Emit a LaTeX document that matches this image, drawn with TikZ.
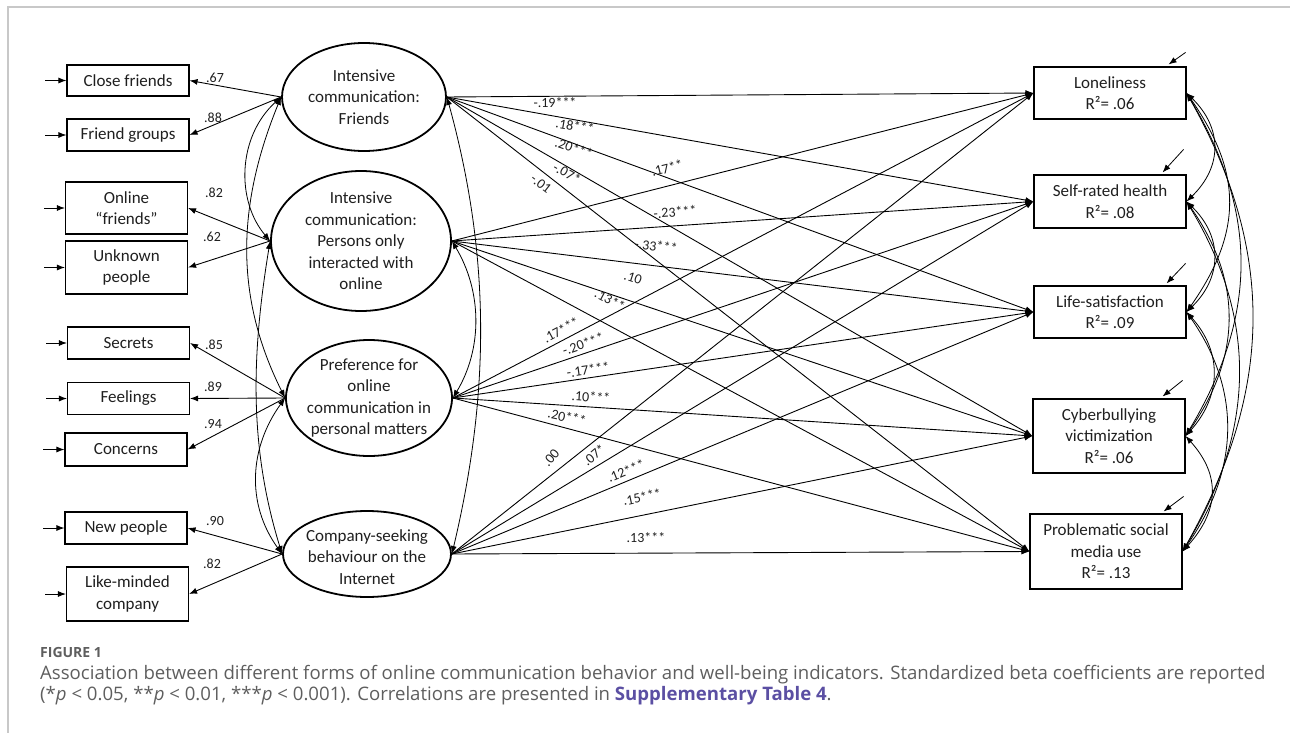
\documentclass[tikz,border=0pt]{standalone}
\usepackage{fontspec}
\setmainfont{Carlito}
\newfontfamily\capfont{Open Sans}
\usepackage{tikz}
\usetikzlibrary{shapes.geometric,arrows.meta}
\definecolor{capgray}{HTML}{5E5E5E}
\definecolor{linkblue}{HTML}{5B4FA3}
\definecolor{framegray}{HTML}{C8C8C8}

\begin{document}
\begin{tikzpicture}[x=1pt, y=-1pt]

\tikzstyle{every node} = [font=\fontsize{17}{21.5}\selectfont, text=black!88]
\tikzstyle{obs} = [draw, rectangle, line width=1.1pt, inner sep=0pt, align=center, minimum width=122pt]
\tikzstyle{outc} = [obs, minimum width=152pt]
\tikzstyle{lat} = [draw, ellipse, line width=1.8pt, inner sep=0pt]
\tikzstyle{lab} = [font=\fontsize{14}{16}\selectfont, inner sep=0pt]
\tikzstyle{ar} = [-{Latex[length=8pt,width=6pt]}, line width=0.9pt]
\tikzstyle{cov} = [{Latex[length=8pt,width=6pt]}-{Latex[length=8pt,width=6pt]}, line width=0.8pt]
\tikzstyle{captxt} = [anchor=base west, inner sep=0pt, text=capgray]

\useasboundingbox (0,0) rectangle (1290,733);
\draw[framegray, line width=1.5pt] (8,733) -- (8,7) -- (1290,7);

\node[obs, minimum height=31pt] (cf) at (128,80.5) {Close friends};
\node[obs, minimum height=32pt] (fg) at (128,135) {Friend groups};
\node[obs, minimum height=52pt] (of) at (126.5,208) {Online\\“friends”};
\node[obs, minimum height=53pt] (up) at (126.5,267.5) {Unknown\\people};
\node[obs, minimum height=32pt] (se) at (128.5,343) {Secrets};
\node[obs, minimum height=32pt] (fe) at (128.5,398.5) {Feelings};
\node[obs, minimum height=33pt] (co) at (126,449.5) {Concerns};
\node[obs, minimum height=32pt] (np) at (126,528) {New people};
\node[obs, minimum height=54pt] (lm) at (127.5,594) {Like-minded\\company};

\node[lat, minimum width=164pt, minimum height=108pt,
  label={[align=center]center:{Intensive\\communication:\\Friends}}] (fr) at (364,97) {};
\node[lat, minimum width=180pt, minimum height=140pt,
  label={[align=center]center:{Intensive\\communication:\\Persons only\\interacted with\\online}}] (on) at (361,241) {};
\node[lat, minimum width=166pt, minimum height=116pt,
  label={[align=center]center:{Preference for\\online\\communication in\\personal matters}}] (pr) at (369,398) {};
\node[lat, minimum width=168pt, minimum height=86pt,
  label={[align=center, yshift=-3pt]center:{Company-seeking\\behaviour on the\\Internet}}] (cs) at (367,554) {};

\node[outc, minimum height=52pt] (lon) at (1110,93) {Loneliness\\R²= .06};
\node[outc, minimum height=53pt] (srh) at (1110,201.5) {Self-rated health\\R²= .08};
\node[outc, minimum height=52pt] (ls) at (1110,312) {Life-satisfaction\\R²= .09};
\node[outc, minimum height=74pt] (cv) at (1109,436) {Cyberbullying\\victimization\\R²= .06};
\node[outc, minimum height=75pt] (psm) at (1106,551.5) {Problematic social\\media use\\R²= .13};

\foreach \n in {cf,fg,of,up,se,fe,co,np,lm}
  \draw[{Latex[length=8pt,width=6pt]}-, line width=0.9pt] (\n.west) -- ++(-21,0);
\foreach \n/\tx/\dx/\dy in {lon/18/17/12, srh/24/21/23, ls/20/19/20, cv/23/20/16, psm/19/20/15}
  \draw[{Latex[length=8pt,width=6pt]}-, line width=0.8pt] ([shift={(-\tx pt,2pt)}]\n.north east) -- ++(\dx,-\dy);

\draw[ar] (fr.west) -- (cf.east);
\draw[ar] (fr.west) -- (fg.east);
\draw[ar] (on.west) -- (of.east);
\draw[ar] (on.west) -- (up.east);
\draw[ar] (pr.west) -- (se.east);
\draw[ar] (pr.west) -- (fe.east);
\draw[ar] (pr.west) -- (co.east);
\draw[ar] (cs.west) -- (np.east);
\draw[ar] (cs.west) -- (lm.east);

\foreach \x/\y/\t [count=\i] in {215/78/.67, 213/118/.88, 214/193/.82, 212/237/.62, 214/345/.85,
  213/387/.89, 213/424/.94, 215/521/.90, 212/564/.82}
  \node[lab] (w\i) at (\x,\y) {\t};

\draw[cov] (fr.west) .. controls +(-44,40) and +(-34,-40) .. (on.west);
\draw[cov] (fr.west) .. controls +(-45,110) and +(-50,-100) .. (pr.west);
\draw[cov] (on.west) .. controls +(-18,110) and +(-34,-110) .. (cs.west);
\draw[cov] (pr.west) .. controls +(-36,50) and +(-36,-50) .. (cs.west);
\draw[cov] (fr.east) .. controls +(44,160) and +(38,-160) .. (cs.east);
\draw[cov] (on.east) .. controls +(30,50) and +(30,-50) .. (pr.east);

\foreach \s in {fr,on,pr,cs}
  \foreach \t in {lon,srh,ls,cv,psm}
    \draw[ar] (\s.east) -- (\t.west);

\foreach \x/\y/\r/\t [count=\i] in {555/103/0/-.19***, 575/126/-10/.18***, 574/148/-20/.20***,
  567/173/-30/-.07*, 541/184/-38/-.01, 667/168/14/.17**, 675/212/4/-.23***, 656/246/-7/-.33***,
  633/278/-18/.10, 610/300/-28/.13**, 561/330/28/.17***, 583/344/19/-.20***, 588/370/8/-.17***,
  591/397/-4/.10***, 567/417/-12/.20***, 551/458/50/.00, 594/455/40/.07*, 626/471/22/.12***,
  642/497/12/.15***, 646/538/0/.13***}
  \node[lab, rotate=\r] (b\i) at (\x,\y) {\t};

\foreach \a/\b/\d/\h in {lon/srh/36/35, srh/ls/36/35, ls/cv/36/40, cv/psm/36/40,
  lon/ls/56/80, srh/cv/56/80, ls/psm/56/80, lon/cv/72/120, srh/psm/72/120, lon/psm/90/160}
  \draw[cov] (\a.east) .. controls +(\d,\h) and +(\d,-\h) .. (\b.east);

\node[captxt, font=\capfont\bfseries\fontsize{14}{16}\selectfont] (fig) at (40,657) {FIGURE 1};
\node[captxt, font=\capfont\fontsize{18.6}{21}\selectfont] (cap1) at (40,679) {Association between different forms of online communication behavior and well-being indicators. Standardized beta coefficients are reported};
\node[captxt, font=\capfont\fontsize{18.6}{21}\selectfont] (cap2) at (40,700) {(*\textit{p} < 0.05, **\textit{p} < 0.01, ***\textit{p} < 0.001). Correlations are presented in \textcolor{linkblue}{\bfseries Supplementary Table 4}.};

\end{tikzpicture}
\end{document}
